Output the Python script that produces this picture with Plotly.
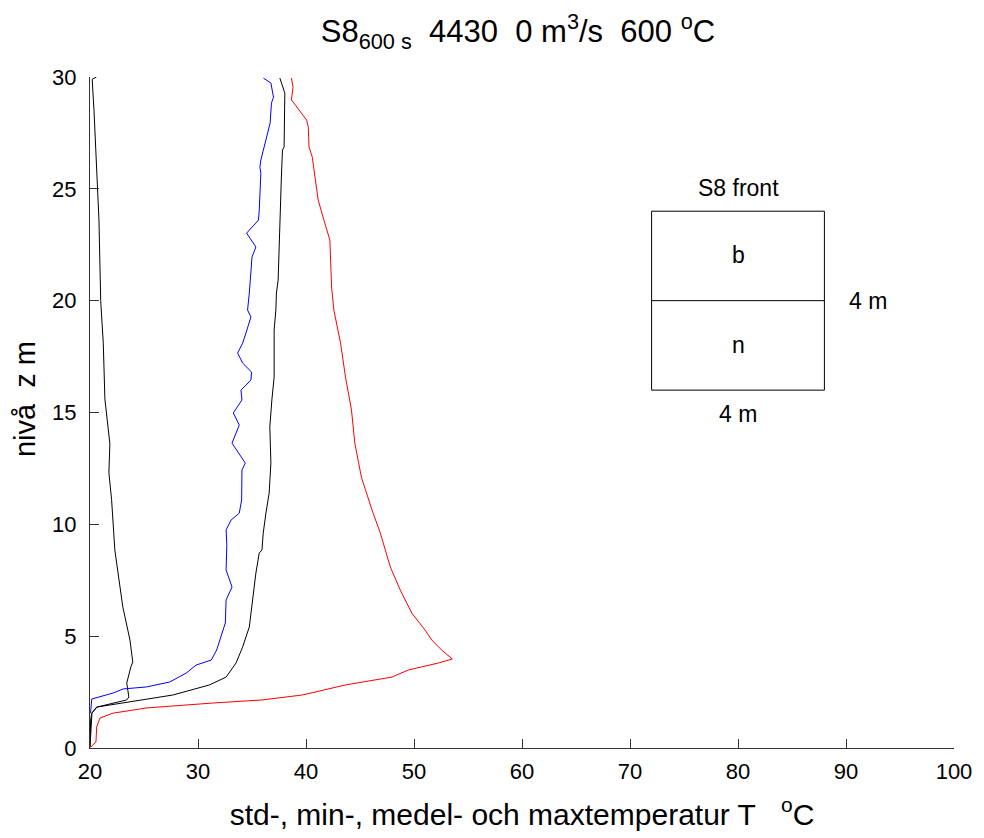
import plotly.graph_objects as go

# temperature profiles (T in degC) against level z (m)
std_T = [20.6, 20.2, 20.37, 20.62, 20.83, 20.99, 21.23, 21.38, 21.84, 21.75, 22.0, 22.3, 22.6,
         23.04, 23.7, 23.96, 23.78, 23.4, 23.6, 23.4, 20.65, 20.18, 20.0]
std_z = [30.0, 29.9, 28.5, 26.0, 23.6, 20.0, 18.1, 15.6, 13.6, 12.3, 11.1, 8.85, 7.8,
         6.3, 4.83, 3.84, 3.62, 2.9, 2.28, 2.15, 1.83, 1.56, 0.05]

min_T = [36.06, 36.75, 36.99, 36.8, 36.68, 36.29, 35.82, 35.73, 35.82, 35.67, 35.6, 34.5, 35.36,
         35.0, 34.9, 34.75, 34.59, 34.9, 34.44, 34.13, 33.67, 34.13, 34.96, 34.9, 33.98, 34.07,
         33.27, 33.82, 33.15, 34.38, 34.07, 34.04, 33.82, 33.06, 32.6, 32.67, 32.6, 33.15, 32.6,
         32.53, 31.73, 31.22, 29.83, 28.91, 27.37, 25.23, 23.07, 22.15, 20.16, 20.05]
min_z = [29.95, 29.73, 29.1, 28.83, 27.94, 27.18, 26.29, 25.97, 25.7, 24.05, 23.6, 23.02, 22.4,
         21.95, 21.06, 20.34, 19.58, 19.27, 18.55, 18.1, 17.66, 17.21, 16.81, 16.45, 16.0, 15.56,
         14.98, 14.44, 13.63, 12.74, 12.43, 11.09, 10.5, 10.19, 9.75, 9.07, 7.96, 7.2, 6.62,
         5.59, 4.38, 3.93, 3.71, 3.35, 2.95, 2.73, 2.64, 2.46, 2.19, 1.56]

medel_T = [37.58, 37.88, 38.04, 37.97, 37.82, 37.72, 37.6, 37.51, 37.42, 37.26, 37.21, 37.05,
           37.05, 36.84, 36.65, 36.75, 36.59, 36.29, 36.04, 35.92, 35.67, 35.36, 35.0, 34.75,
           34.13, 33.52, 32.6, 31.06, 27.68, 23.38, 20.62, 20.16, 20.06, 20.0]
medel_z = [29.95, 29.55, 29.28, 26.87, 26.73, 25.53, 23.92, 21.81, 20.92, 20.34, 19.58, 18.69,
           16.58, 15.56, 14.35, 12.74, 11.4, 10.5, 9.61, 8.85, 8.72, 7.82, 6.3, 5.41,
           4.51, 3.8, 3.17, 2.82, 2.37, 2.06, 1.83, 1.56, 1.25, 0.04]

max_T = [38.65, 38.8, 38.65, 38.89, 40.06, 40.21, 40.28, 40.58, 40.83, 41.13, 41.66, 42.21,
         42.37, 42.58, 43.2, 43.66, 44.21, 44.52, 45.13, 46.11, 46.88, 47.49, 47.81, 48.73,
         49.8, 51.03, 51.64, 52.56, 53.55, 52.26, 49.49, 47.95, 43.66, 39.66, 35.97, 31.36,
         25.23, 22.15, 20.92, 20.62, 20.55, 20.06]
max_z = [29.95, 29.55, 28.97, 28.83, 28.07, 27.76, 26.87, 26.42, 25.53, 24.5, 23.6, 22.71,
         20.61, 19.58, 18.1, 16.58, 15.11, 13.63, 12.11, 10.64, 9.61, 8.54, 8.09, 7.06,
         6.03, 5.27, 4.83, 4.38, 3.98, 3.8, 3.49, 3.17, 2.82, 2.37, 2.15, 2.01,
         1.79, 1.56, 1.34, 0.94, 0.27, 0.04]

x_ticks = [20, 30, 40, 50, 60, 70, 80, 90, 100]
y_ticks = [0, 5, 10, 15, 20, 25, 30]

FONT = "Liberation Sans, Arial, sans-serif"

fig = go.Figure()
fig.add_trace(go.Scatter(x=std_T, y=std_z, mode="lines", name="std",
                         line=dict(color="black", width=1)))
fig.add_trace(go.Scatter(x=min_T, y=min_z, mode="lines", name="min",
                         line=dict(color="#0000ff", width=1)))
fig.add_trace(go.Scatter(x=medel_T, y=medel_z, mode="lines", name="medel",
                         line=dict(color="black", width=1)))
fig.add_trace(go.Scatter(x=max_T, y=max_z, mode="lines", name="max",
                         line=dict(color="#ff0000", width=1)))

# schematic of the front section
fig.add_shape(type="rect", x0=72, x1=88, y0=16, y1=24,
              line=dict(color="black", width=1))
fig.add_shape(type="line", x0=72, x1=88, y0=20, y1=20,
              line=dict(color="black", width=1))
for txt, xx, yy in [("S8 front", 80, 25.05), ("b", 80, 22.05), ("n", 80, 18.0),
                    ("4 m", 92.0, 20.0), ("4 m", 80, 14.95)]:
    fig.add_annotation(x=xx, y=yy, text=txt, showarrow=False,
                       font=dict(size=23, color="black", family=FONT))

# y-axis title as a rotated annotation (sits a little above the axis middle)
fig.add_annotation(text="nivå&nbsp;&nbsp;z m", textangle=-90, showarrow=False,
                   xref="paper", x=0, xshift=-65, xanchor="center",
                   yref="y", y=15.6, yanchor="middle",
                   font=dict(size=29, color="black", family=FONT))

# page body has an 8px margin, so the figure is sized to fit the window
fig.update_layout(
    width=976, height=830,
    margin=dict(l=82, r=26, t=69, b=90),
    plot_bgcolor="white", paper_bgcolor="white",
    showlegend=False,
    font=dict(family=FONT, color="black", size=22),
    title=dict(text="S8<sub>600 s</sub>  4430  0 m<sup>3</sup>/s  600 <sup>o</sup>C",
               x=0.5225, xanchor="center", xref="container",
               y=0.972, yanchor="middle", yref="container",
               font=dict(size=31, family=FONT)),
)
fig.update_xaxes(
    range=[20, 100], tickvals=x_ticks, showgrid=False, zeroline=False,
    showline=True, linecolor="#333333", linewidth=1, mirror=False,
    ticks="inside", ticklen=9, tickcolor="#333333",
    tickfont=dict(size=22), ticklabelstandoff=4,
    title=dict(text="std-, min-, medel- och maxtemperatur T&nbsp;&nbsp;&nbsp;<sup>o</sup>C",
               font=dict(size=30), standoff=20),
)
fig.update_yaxes(
    range=[0, 30], tickvals=y_ticks, showgrid=False, zeroline=False,
    showline=True, linecolor="#333333", linewidth=1, mirror=False,
    ticks="inside", ticklen=9, tickcolor="#333333",
    tickfont=dict(size=22), ticklabelstandoff=8,
)

fig.write_html("out.html")
